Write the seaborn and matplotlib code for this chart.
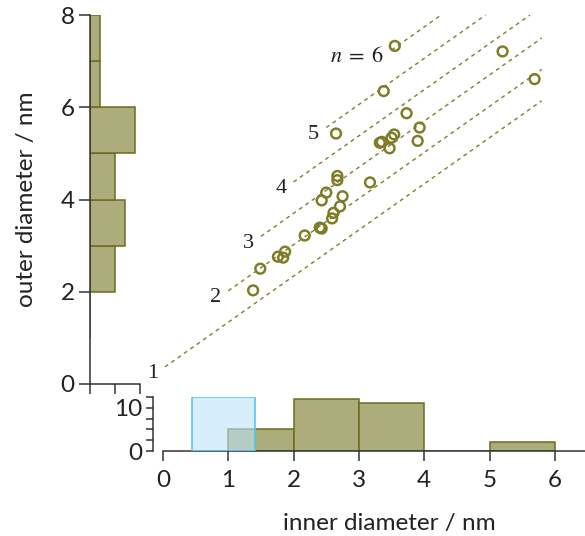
import numpy as np
import matplotlib
matplotlib.use("Agg")
import matplotlib.pyplot as plt
import seaborn as sns
from matplotlib.ticker import FixedLocator, NullFormatter

# ---------------- data ----------------
inner_nm = [3.55, 5.20, 5.69, 3.38, 3.73, 2.65, 3.93, 3.54, 3.32, 3.47,
            3.90, 2.67, 2.67, 3.17, 2.50, 2.43, 2.75, 2.71, 2.61, 2.59,
            2.43, 2.40, 2.17, 1.87, 1.76, 1.84, 1.49, 1.38, 3.50, 3.35]
outer_nm = [7.33, 7.21, 6.61, 6.35, 5.87, 5.43, 5.56, 5.41, 5.23, 5.11,
            5.27, 4.51, 4.42, 4.37, 4.15, 3.98, 4.07, 3.85, 3.71, 3.59,
            3.37, 3.39, 3.22, 2.87, 2.76, 2.74, 2.50, 2.03, 5.34, 5.25]

shell_labels = ["1", "2", "3", "4", "5", r"$n\;=\;6$"]
shell_offset_nm = [0.34, 1.02, 1.70, 2.38, 3.06, 3.74]
shell_start_nm = [0.03, 1.0, 1.5, 2.0, 2.5, 3.5]

inner_bins = [1, 2, 3, 4, 5, 6]
outer_bins = [1, 2, 3, 4, 5, 6, 7, 8]

ref_bin_edges = [0.45, 1.41]
ref_count = [12.4]

outer_ticks = [0, 2, 4, 6, 8]
inner_ticks = [0, 1, 2, 3, 4, 5, 6]
count_ticks_left = [0, 5, 10]
count_major_bottom = [0, 10]
count_minor_bottom = [2.5, 5, 7.5, 12.5]

# ---------------- style ----------------
sns.set_theme(style="white")
SANS = ["Lato", "Liberation Sans", "DejaVu Sans"]
plt.rcParams["font.family"] = SANS
plt.rcParams["font.weight"] = "normal"
plt.rcParams["mathtext.fontset"] = "stix"

OLIVE_FILL = "#adac7b"
OLIVE_EDGE = "#6d6c1c"
OLIVE_MARK = "#7e7c24"
OLIVE_LINE = "#7f7d2a"
BLUE_FILL = "#bbe2f8"
BLUE_EDGE = "#4fc1f5"
AX_COL = "#333333"
TXT_COL = "#222222"
FS = 17.5

W, H = 585, 536
fig = plt.figure(figsize=(W / 100, H / 100), dpi=100)


def rect(x0, y0, x1, y1):
    return [x0 / W, (H - y1) / H, (x1 - x0) / W, (y1 - y0) / H]


XMAX = 6.5
PX_PER_NM = 65.3
ax_main = fig.add_axes(rect(163, 15, 163 + XMAX * PX_PER_NM, 384))
ax_left = fig.add_axes(rect(90, 15, 139.5, 384), sharey=ax_main)
ax_bot = fig.add_axes(rect(163, 397, 163 + XMAX * PX_PER_NM, 451), sharex=ax_main)

for a in (ax_main, ax_left, ax_bot):
    a.set_facecolor("none")
ax_main.set_xlim(0, XMAX)
ax_main.set_ylim(0, 8)

# ---------------- main scatter ----------------
for lab, off, x0 in zip(shell_labels, shell_offset_nm, shell_start_nm):
    x1 = min(5.8, 8 - off)
    xs = np.array([x0, x1])
    ax_main.plot(xs, xs + off, color=OLIVE_LINE, lw=1.0,
                 dashes=(2.8, 2.8), zorder=1, clip_on=False)
    ax_main.annotate(lab, xy=(x0, x0 + off), xytext=(-7, -7),
                     textcoords="offset pixels", ha="right", va="center",
                     fontsize=16, family=["Liberation Serif", "DejaVu Serif"],
                     weight="normal", color=TXT_COL)

sns.scatterplot(x=inner_nm, y=outer_nm, ax=ax_main, s=50,
                facecolor="none", edgecolor=OLIVE_MARK, linewidth=1.75,
                zorder=3, clip_on=False)
ax_main.axis("off")

# ---------------- left histogram (outer diameter) ----------------
sns.histplot(y=outer_nm, bins=outer_bins, ax=ax_left, color=OLIVE_FILL,
             edgecolor=OLIVE_EDGE, linewidth=1.1, alpha=1.0)
ax_left.set_xlim(0, 10)
ax_left.set_ylim(0, 8)
for s in ("top", "right"):
    ax_left.spines[s].set_visible(False)
for s in ("left", "bottom"):
    ax_left.spines[s].set_color(AX_COL)
    ax_left.spines[s].set_linewidth(1.1)
ax_left.set_yticks(outer_ticks)
ax_left.set_xticks(count_ticks_left)
ax_left.xaxis.set_major_formatter(NullFormatter())
ax_left.tick_params(axis="both", direction="out", length=8, width=1.1,
                    color=AX_COL, labelsize=FS, labelcolor=TXT_COL, pad=3)
ax_left.tick_params(axis="x", length=7.5)
ax_left.tick_params(left=True, bottom=True)
ax_left.set_xlabel("")
ax_left.set_ylabel("outer diameter / nm", fontsize=FS, color=TXT_COL)
ax_left.yaxis.set_label_coords(-1.08, 0.5)

# ---------------- bottom histogram (inner diameter) ----------------
sns.histplot(x=inner_nm, bins=inner_bins, ax=ax_bot, color=OLIVE_FILL,
             edgecolor=OLIVE_EDGE, linewidth=1.1, alpha=1.0, zorder=2)
sns.histplot(x=[np.mean(ref_bin_edges)], weights=ref_count, bins=ref_bin_edges,
             ax=ax_bot, color=BLUE_FILL, edgecolor=BLUE_EDGE, linewidth=1.1,
             alpha=0.6, zorder=3)
ax_bot.set_xlim(0, XMAX)
ax_bot.set_ylim(0, 12.5)
for s in ("top", "right"):
    ax_bot.spines[s].set_visible(False)
for s in ("left", "bottom"):
    ax_bot.spines[s].set_color(AX_COL)
    ax_bot.spines[s].set_linewidth(1.1)
ax_bot.spines["left"].set_position(("outward", 7.2))
ax_bot.set_xticks(inner_ticks)
ax_bot.yaxis.set_major_locator(FixedLocator(count_major_bottom))
ax_bot.yaxis.set_minor_locator(FixedLocator(count_minor_bottom))
ax_bot.tick_params(axis="x", direction="out", length=7.5, width=1.1,
                   color=AX_COL, labelsize=FS, labelcolor=TXT_COL, pad=6,
                   bottom=True)
ax_bot.tick_params(axis="y", which="both", direction="out", length=5, width=1.1,
                   color=AX_COL, labelsize=FS, labelcolor=TXT_COL, pad=3,
                   left=True)
ax_bot.set_ylabel("")
ax_bot.set_xlabel("inner diameter / nm", fontsize=FS, color=TXT_COL)
ax_bot.xaxis.set_label_coords((389.5 - 163) / (XMAX * PX_PER_NM), -1.15)

fig.savefig("out.png", dpi=100)
